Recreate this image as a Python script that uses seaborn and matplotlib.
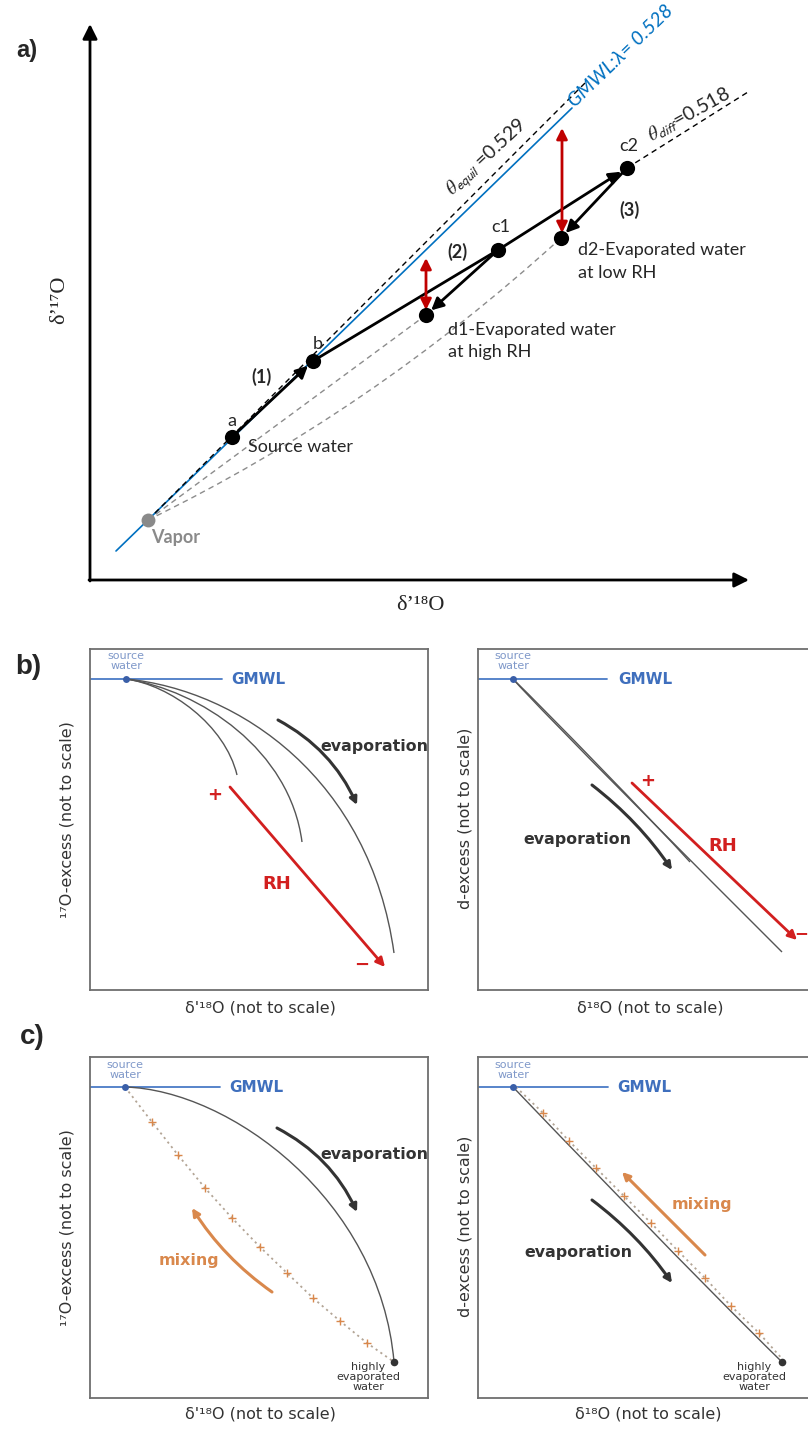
import matplotlib
matplotlib.use("Agg")
import matplotlib.pyplot as plt
import seaborn as sns
from matplotlib.path import Path
from matplotlib.patches import PathPatch

# ---------------- Panel a: schematic points (pixel units) ----------------
pt_names = ["Vapor", "a", "b", "c1", "c2", "d1", "d2"]
pt_x = [148, 232, 313, 498, 627, 426, 561]
pt_y = [520, 437, 361, 250, 168, 315, 238]
gmwl_x = [116, 572]
gmwl_y = [551, 108]
equil_x = [148, 585]
equil_y = [520, 83]
diff_x = [627, 748]
diff_y = [168, 92]
vap_d1_x = [148, 426]
vap_d1_y = [520, 315]
vap_d2_ctrl = [(148, 520), (370, 412), (561, 238)]
red_x = [426, 562]
red_top = [258, 128]
red_bot = [310, 233]

# ---------------- Panel b data ----------------
b_src = (126, 679)
b_left_curves = [
    [(126, 679), (170, 685), (225, 725), (237, 775)],
    [(126, 679), (200, 690), (290, 750), (302, 842)],
    [(126, 679), (240, 690), (370, 780), (394, 953)],
]
b_left_evap_arrow = [(278, 720), (357, 805)]
b_left_rh_arrow = [(230, 787), (385, 967)]
b_r_src = (513, 679)
b_right_curves = [
    [(513, 679), (545, 715), (700, 870), (782, 952)],
    [(513, 679), (548, 713), (650, 818), (690, 862)],
]
b_right_evap_arrow = [(592, 785), (672, 870)]
b_right_rh_arrow = [(632, 783), (797, 940)]

# ---------------- Panel c data ----------------
c_src = (125, 1087)
c_left_evap_curve = [(125, 1087), (230, 1090), (380, 1200), (394, 1362)]
c_left_mix_x = [125, 152, 178, 205, 232, 260, 287, 313, 340, 367, 394]
c_left_mix_y = [1087, 1122, 1155, 1188, 1218, 1247, 1273, 1298, 1321, 1343, 1362]
c_left_evap_arrow = [(277, 1128), (357, 1212)]
c_left_mix_arrow = [(272, 1292), (192, 1208)]
c_r_src = (513, 1087)
c_right_evap_curve = [(513, 1087), (560, 1136), (700, 1282), (782, 1362)]
c_right_mix_x = [513, 540, 566, 593, 621, 648, 675, 702, 728, 756, 782]
c_right_mix_y = [1087, 1113, 1141, 1168, 1196, 1223, 1251, 1278, 1306, 1333, 1362]
c_right_evap_arrow = [(592, 1200), (672, 1283)]
c_right_mix_arrow = [(705, 1255), (622, 1172)]

# ---------------- styling ----------------
sns.set_theme(style="white")
plt.rcParams['font.family'] = ['Lato', 'DejaVu Sans']
plt.rcParams['mathtext.fontset'] = 'stix'

W, H = 808, 1434
fig = plt.figure(figsize=(W / 100, H / 100), dpi=100)
fig.patch.set_facecolor('white')

BLUE_A = '#0070C0'
RED_A = '#C00000'
BLUE_B = '#4a7bc6'
GMWL_TXT = '#3f6fbd'
SRC_TXT = '#7f98c9'
RED_B = '#d21f1f'
ORANGE = '#d9884c'
DARK = '#333333'
SANS = ['DejaVu Sans']
EVAP_FS = 11.4


def px_axes(x0, y0, x1, y1, frame=False):
    ax = fig.add_axes([x0 / W, 1 - y1 / H, (x1 - x0) / W, (y1 - y0) / H])
    ax.set_facecolor('none' if not frame else 'white')
    for s in ax.spines.values():
        s.set_visible(frame)
        s.set_color('#6e6e6e')
        s.set_linewidth(1.3)
    return ax, (x0, x1, y1, y0)


def finish(ax, lims):
    ax.set_xlim(lims[0], lims[1])
    ax.set_ylim(lims[2], lims[3])
    ax.set_xticks([])
    ax.set_yticks([])
    ax.set_xlabel('')
    ax.set_ylabel('')


def arrow(ax, start, end, color, lw, ms=16, style='-|>', rad=0.0, shrinkA=0, shrinkB=0, z=4):
    ax.annotate("", xy=end, xytext=start,
                arrowprops=dict(arrowstyle=style, color=color, lw=lw, mutation_scale=ms,
                                shrinkA=shrinkA, shrinkB=shrinkB,
                                connectionstyle=f"arc3,rad={rad}"), zorder=z)


def bezier(ax, pts, color, lw, ls='-', z=2):
    codes = [Path.MOVETO] + [Path.CURVE4] * 3 if len(pts) == 4 else [Path.MOVETO, Path.CURVE3, Path.CURVE3]
    ax.add_patch(PathPatch(Path(pts, codes), fill=False, edgecolor=color, lw=lw, linestyle=ls, zorder=z))


# ============================ Panel a ============================
ax, lims = px_axes(0, 0, 808, 620)
P = dict(zip(pt_names, zip(pt_x, pt_y)))

# axes arrows
arrow(ax, (90, 581), (90, 24), 'black', 2.0, ms=22)
arrow(ax, (89, 580), (749, 580), 'black', 2.0, ms=22)

# lines
sns.lineplot(x=gmwl_x, y=gmwl_y, ax=ax, color=BLUE_A, lw=1.2, zorder=2)
sns.lineplot(x=equil_x, y=equil_y, ax=ax, color='black', lw=1.0, linestyle=(0, (4, 3)), zorder=2)
sns.lineplot(x=diff_x, y=diff_y, ax=ax, color='black', lw=1.0, linestyle=(0, (4, 3)), zorder=2)
sns.lineplot(x=vap_d1_x, y=vap_d1_y, ax=ax, color='#8c8c8c', lw=1.0, linestyle=(0, (4, 3)), zorder=1)
bezier(ax, vap_d2_ctrl, '#8c8c8c', 1.0, ls=(0, (4, 3)), z=1)

# black process arrows
sns.lineplot(x=[P['b'][0], P['c1'][0]], y=[P['b'][1], P['c1'][1]], ax=ax, color='black', lw=2.0, zorder=3)
arrow(ax, P['a'], P['b'], 'black', 2.0, ms=18, shrinkB=5)
arrow(ax, P['c1'], P['c2'], 'black', 2.0, ms=18, shrinkB=5)
arrow(ax, P['c1'], P['d1'], 'black', 2.0, ms=18, shrinkA=4, shrinkB=5)
arrow(ax, P['c2'], P['d2'], 'black', 2.0, ms=18, shrinkA=4, shrinkB=5)

# red double arrows
for xr, yt, yb in zip(red_x, red_top, red_bot):
    arrow(ax, (xr, yb), (xr, yt), RED_A, 2.0, ms=16, style='<|-|>', z=5)

# points
sns.scatterplot(x=pt_x[1:], y=pt_y[1:], ax=ax, s=120, color='black', linewidth=0, zorder=6)
sns.scatterplot(x=pt_x[:1], y=pt_y[:1], ax=ax, s=100, color='#8a8a8a', linewidth=0, zorder=6)

fs = 13
ax.text(232, 421, 'a', fontsize=fs, ha='center', va='center')
ax.text(318, 344, 'b', fontsize=fs, ha='center', va='center')
ax.text(501, 227, 'c1', fontsize=fs, ha='center', va='center')
ax.text(629, 146, 'c2', fontsize=fs, ha='center', va='center')
ax.text(261, 377, '(1)', fontsize=fs, ha='center', va='center', fontweight='bold')
ax.text(457, 252, '(2)', fontsize=fs, ha='center', va='center', fontweight='bold')
ax.text(629, 210, '(3)', fontsize=fs, ha='center', va='center', fontweight='bold')
ax.text(248, 447, 'Source water', fontsize=fs, ha='left', va='center')
ax.text(151, 537, 'Vapor', fontsize=fs, ha='left', va='center', fontweight='bold', color='#8a8a8a')
ax.text(448, 330, 'd1-Evaporated water', fontsize=fs, ha='left', va='center')
ax.text(448, 352, 'at high RH', fontsize=fs, ha='left', va='center')
ax.text(578, 250, 'd2-Evaporated water', fontsize=fs, ha='left', va='center')
ax.text(578, 273, 'at low RH', fontsize=fs, ha='left', va='center')
ax.text(575, 108, 'GMWL:λ= 0.528', fontsize=14, color=BLUE_A, style='italic',
        rotation=44, rotation_mode='anchor', ha='left', va='baseline')
ax.text(452, 196, r'$\theta_{\mathsf{equil}}$ =0.529', fontsize=14,
        rotation=43, rotation_mode='anchor', ha='left', va='baseline')
ax.text(652, 142, r'$\theta_{\mathsf{diff}}$=0.518', fontsize=14,
        rotation=29, rotation_mode='anchor', ha='left', va='baseline')
ax.text(420, 606, 'δ’¹⁸O', fontsize=16, ha='center', va='center',
        family=['Liberation Serif', 'DejaVu Serif'])
ax.text(60, 300, 'δ’¹⁷O', fontsize=16, ha='center', va='center', rotation=90,
        family=['Liberation Serif', 'DejaVu Serif'])
ax.text(27, 50, 'a)', fontsize=17, ha='center', va='center', fontweight='bold',
        family=['Liberation Sans', 'DejaVu Sans'])
finish(ax, lims)

# ============================ Panel b left ============================
ax, lims = px_axes(90, 649, 428, 990, frame=True)
sns.lineplot(x=[90, 222], y=[b_src[1], b_src[1]], ax=ax, color=BLUE_B, lw=1.3, zorder=2)
for c in b_left_curves:
    bezier(ax, c, '#555555', 1.0)
arrow(ax, b_left_evap_arrow[0], b_left_evap_arrow[1], DARK, 2.2, ms=11, rad=-0.17)
ax.text(320, 747, 'evaporation', fontsize=EVAP_FS, color=DARK, fontweight='bold', ha='left',
        va='center', family=SANS, clip_on=True)
arrow(ax, b_left_rh_arrow[0], b_left_rh_arrow[1], RED_B, 2.0, ms=13)
ax.text(215, 795, '+', fontsize=13, color=RED_B, fontweight='bold', ha='center', va='center', family=SANS)
ax.text(362, 965, '−', fontsize=13, color=RED_B, fontweight='bold', ha='center', va='center', family=SANS)
ax.text(277, 884, 'RH', fontsize=13, color=RED_B, fontweight='bold', ha='center', va='center', family=SANS)
sns.scatterplot(x=[b_src[0]], y=[b_src[1]], ax=ax, s=25, color='#3a5fa8', linewidth=0, zorder=6)
ax.text(b_src[0], 661, 'source\nwater', fontsize=8, color=SRC_TXT, ha='center', va='center',
        linespacing=0.95, family=SANS)
ax.text(231, 680, 'GMWL', fontsize=11, color=GMWL_TXT, fontweight='bold', ha='left', va='center', family=SANS)
ax.text(260, 1008, 'δ\'¹⁸O (not to scale)', fontsize=11.5, color=DARK, ha='center', va='center',
        family=SANS, clip_on=False)
ax.text(67, 820, '¹⁷O-excess (not to scale)', fontsize=11.5, color=DARK, ha='center', va='center',
        rotation=90, family=SANS, clip_on=False)
finish(ax, lims)

# ============================ Panel b right ============================
ax, lims = px_axes(478, 649, 815, 990, frame=True)
sns.lineplot(x=[478, 607], y=[b_r_src[1], b_r_src[1]], ax=ax, color=BLUE_B, lw=1.3, zorder=2)
for c in b_right_curves:
    bezier(ax, c, '#555555', 1.0)
arrow(ax, b_right_evap_arrow[0], b_right_evap_arrow[1], DARK, 2.2, ms=11, rad=-0.08)
ax.text(523, 840, 'evaporation', fontsize=EVAP_FS, color=DARK, fontweight='bold', ha='left',
        va='center', family=SANS)
arrow(ax, b_right_rh_arrow[0], b_right_rh_arrow[1], RED_B, 2.0, ms=13)
ax.text(648, 781, '+', fontsize=13, color=RED_B, fontweight='bold', ha='center', va='center', family=SANS)
ax.text(801, 933, '−', fontsize=12, color=RED_B, fontweight='bold', ha='center', va='center', family=SANS)
ax.text(723, 846, 'RH', fontsize=13, color=RED_B, fontweight='bold', ha='center', va='center', family=SANS)
sns.scatterplot(x=[b_r_src[0]], y=[b_r_src[1]], ax=ax, s=25, color='#3a5fa8', linewidth=0, zorder=6)
ax.text(b_r_src[0], 661, 'source\nwater', fontsize=8, color=SRC_TXT, ha='center', va='center',
        linespacing=0.95, family=SANS)
ax.text(618, 680, 'GMWL', fontsize=11, color=GMWL_TXT, fontweight='bold', ha='left', va='center', family=SANS)
ax.text(650, 1008, 'δ¹⁸O (not to scale)', fontsize=11.5, color=DARK, ha='center', va='center',
        family=SANS, clip_on=False)
ax.text(465, 818, 'd-excess (not to scale)', fontsize=11.5, color=DARK, ha='center', va='center',
        rotation=90, family=SANS, clip_on=False)
finish(ax, lims)

# ============================ Panel c left ============================
ax, lims = px_axes(90, 1057, 428, 1398, frame=True)
sns.lineplot(x=[90, 220], y=[c_src[1], c_src[1]], ax=ax, color=BLUE_B, lw=1.3, zorder=2)
bezier(ax, c_left_evap_curve, '#555555', 1.0)
sns.lineplot(x=c_left_mix_x, y=c_left_mix_y, ax=ax, color='#b3a596', lw=1.3, linestyle=(0, (1.2, 2)), zorder=2)
sns.scatterplot(x=c_left_mix_x[1:-1], y=c_left_mix_y[1:-1], ax=ax, marker='+', s=40,
                color=ORANGE, linewidth=1.0, zorder=3)
arrow(ax, c_left_evap_arrow[0], c_left_evap_arrow[1], DARK, 2.2, ms=11, rad=-0.17)
ax.text(320, 1155, 'evaporation', fontsize=EVAP_FS, color=DARK, fontweight='bold', ha='left',
        va='center', family=SANS, clip_on=True)
arrow(ax, c_left_mix_arrow[0], c_left_mix_arrow[1], ORANGE, 2.2, ms=11, rad=-0.1)
ax.text(189, 1260, 'mixing', fontsize=11.4, color=ORANGE, fontweight='bold', ha='center',
        va='center', family=SANS)
sns.scatterplot(x=[c_src[0]], y=[c_src[1]], ax=ax, s=25, color='#3a5fa8', linewidth=0, zorder=6)
sns.scatterplot(x=[c_left_mix_x[-1]], y=[c_left_mix_y[-1]], ax=ax, s=30, color=DARK, linewidth=0, zorder=6)
ax.text(c_src[0], 1070, 'source\nwater', fontsize=8, color=SRC_TXT, ha='center', va='center',
        linespacing=0.95, family=SANS)
ax.text(229, 1088, 'GMWL', fontsize=11, color=GMWL_TXT, fontweight='bold', ha='left', va='center', family=SANS)
ax.text(368, 1377, 'highly\nevaporated\nwater', fontsize=8, color=DARK, ha='center', va='center',
        linespacing=0.95, family=SANS)
ax.text(260, 1414, 'δ\'¹⁸O (not to scale)', fontsize=11.5, color=DARK, ha='center', va='center',
        family=SANS, clip_on=False)
ax.text(67, 1228, '¹⁷O-excess (not to scale)', fontsize=11.5, color=DARK, ha='center', va='center',
        rotation=90, family=SANS, clip_on=False)
finish(ax, lims)

# ============================ Panel c right ============================
ax, lims = px_axes(478, 1057, 815, 1398, frame=True)
sns.lineplot(x=[478, 608], y=[c_r_src[1], c_r_src[1]], ax=ax, color=BLUE_B, lw=1.3, zorder=2)
bezier(ax, c_right_evap_curve, '#555555', 1.0)
sns.lineplot(x=[v + 3 for v in c_right_mix_x], y=c_right_mix_y, ax=ax, color='#b3a596', lw=1.3,
             linestyle=(0, (1.2, 2)), zorder=2)
sns.scatterplot(x=[v + 3 for v in c_right_mix_x[1:-1]], y=c_right_mix_y[1:-1], ax=ax, marker='+', s=40,
                color=ORANGE, linewidth=1.0, zorder=3)
arrow(ax, c_right_evap_arrow[0], c_right_evap_arrow[1], DARK, 2.2, ms=11, rad=-0.08)
ax.text(524, 1253, 'evaporation', fontsize=EVAP_FS, color=DARK, fontweight='bold', ha='left',
        va='center', family=SANS)
arrow(ax, c_right_mix_arrow[0], c_right_mix_arrow[1], ORANGE, 2.2, ms=11)
ax.text(702, 1205, 'mixing', fontsize=11.4, color=ORANGE, fontweight='bold', ha='center',
        va='center', family=SANS)
sns.scatterplot(x=[c_r_src[0]], y=[c_r_src[1]], ax=ax, s=25, color='#3a5fa8', linewidth=0, zorder=6)
sns.scatterplot(x=[c_right_mix_x[-1]], y=[c_right_mix_y[-1]], ax=ax, s=30, color=DARK, linewidth=0, zorder=6)
ax.text(c_r_src[0], 1070, 'source\nwater', fontsize=8, color=SRC_TXT, ha='center', va='center',
        linespacing=0.95, family=SANS)
ax.text(617, 1088, 'GMWL', fontsize=11, color=GMWL_TXT, fontweight='bold', ha='left', va='center', family=SANS)
ax.text(754, 1377, 'highly\nevaporated\nwater', fontsize=8, color=DARK, ha='center', va='center',
        linespacing=0.95, family=SANS)
ax.text(648, 1414, 'δ¹⁸O (not to scale)', fontsize=11.5, color=DARK, ha='center', va='center',
        family=SANS, clip_on=False)
ax.text(465, 1226, 'd-excess (not to scale)', fontsize=11.5, color=DARK, ha='center', va='center',
        rotation=90, family=SANS, clip_on=False)
finish(ax, lims)

# panel letters
fig.text(28 / W, 1 - 667 / H, 'b)', fontsize=20, fontweight='bold', ha='center', va='center',
         family=['Liberation Sans', 'DejaVu Sans'])
fig.text(32 / W, 1 - 1037 / H, 'c)', fontsize=20, fontweight='bold', ha='center', va='center',
         family=['Liberation Sans', 'DejaVu Sans'])

fig.savefig('out.png', dpi=100, facecolor='white')
